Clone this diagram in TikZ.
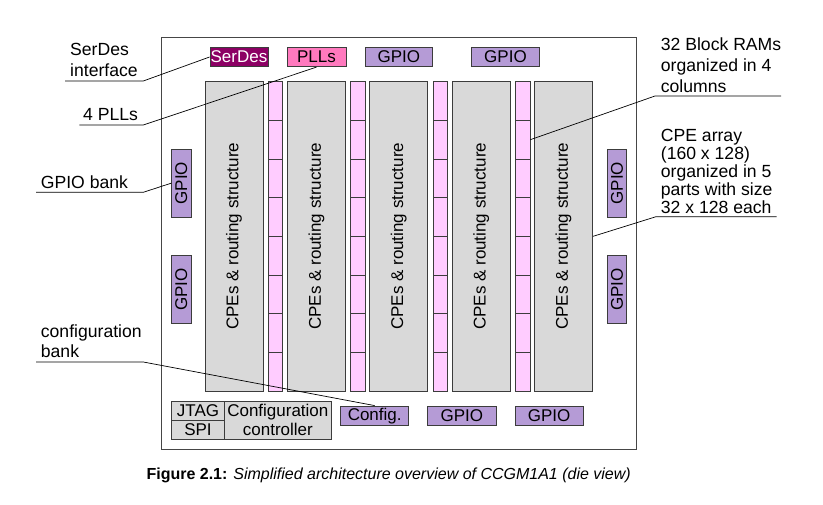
\documentclass[tikz,border=0pt]{standalone}
\usepackage{fontspec}
\setmainfont{Liberation Sans}
\definecolor{edge}{RGB}{60,60,60}
\definecolor{dieedge}{RGB}{70,70,70}
\definecolor{serdesfill}{RGB}{140,0,100}
\definecolor{pllfill}{RGB}{255,121,190}
\definecolor{gpiofill}{RGB}{181,155,214}
\definecolor{bramfill}{RGB}{255,204,255}
\definecolor{cpefill}{RGB}{217,217,217}
\begin{document}
\begin{tikzpicture}[x=1pt,y=-1pt,
  blk/.style={draw=edge, line width=0.8pt, inner sep=0pt, font=\fontsize{17}{18}\selectfont},
  gpioh/.style={blk, fill=gpiofill, minimum width=67.7pt, minimum height=19.4pt},
  gpiov/.style={blk, fill=gpiofill, minimum width=19.3pt, minimum height=67.7pt},
  cpe/.style={blk, fill=cpefill, minimum width=58pt, minimum height=309.3pt},
  bram/.style={blk, fill=bramfill, minimum width=14.5pt, minimum height=38.66pt},
  cfg/.style={blk, fill=cpefill},
  lbl/.style={inner sep=0pt, align=left, anchor=north west, font=\fontsize{17.6}{20.6}\selectfont},
  leader/.style={draw=black, line width=0.7pt}
]
\useasboundingbox (0,0) rectangle (823,505);

% die outline
\node[draw=dieedge, line width=1pt, inner sep=0pt, minimum width=474.8pt, minimum height=411.8pt] (die) at (398.9,243.4) {};

% top row
\node[blk, fill=serdesfill, text=white, minimum width=58pt, minimum height=19.4pt] (serdes) at (239,57) {SerDes};
\node[blk, fill=pllfill, minimum width=59pt, minimum height=19.4pt] (pll) at (316.5,57) {PLLs};
\node[gpioh] (gpiot1) at (398.8,57) {GPIO};
\node[gpioh] (gpiot2) at (505.5,57) {GPIO};

% CPE columns
\foreach \i in {1,...,5}
  \node[cpe] (cpe\i) at ({234+82.4*(\i-1)},236.35) {\rotatebox{90}{CPEs \& routing structure}};

% Block RAM columns
\foreach \c in {1,...,4}
  \foreach \s in {1,...,8}
    \node[bram] (bram\c-\s) at ({275.5+82.4*(\c-1)},{81.7+38.66*(\s-0.5)}) {};

% side GPIO banks
\node[gpiov] (gpiol1) at (181.35,183.15) {\rotatebox{90}{GPIO}};
\node[gpiov] (gpiol2) at (181.35,289.5) {\rotatebox{90}{GPIO}};
\node[gpiov] (gpior1) at (617,183.15) {\rotatebox{90}{GPIO}};
\node[gpiov] (gpior2) at (617,289.5) {\rotatebox{90}{GPIO}};

% bottom row
\node[cfg, minimum width=53.4pt, minimum height=19.3pt] (jtag) at (198,410.65) {JTAG};
\node[cfg, minimum width=53.4pt, minimum height=19pt] (spi) at (198,429.8) {SPI};
\node[cfg, minimum width=106.3pt, minimum height=38.3pt, align=center, font=\fontsize{17}{18.5}\selectfont] (ctrl) at (277.85,420.15) {Configuration\\controller};
\node[blk, fill=gpiofill, minimum width=68pt, minimum height=19.3pt] (config) at (374.7,415.65) {Config.};
\node[gpioh, minimum width=68.3pt, minimum height=19.3pt] (gpiob1) at (461.85,415.65) {GPIO};
\node[gpioh, minimum width=68.3pt, minimum height=19.3pt] (gpiob2) at (549.15,415.65) {GPIO};

% left labels
\node[lbl] (lserdes) at (70,43.4) {SerDes\\interface};
\coordinate (u1a) at (65,81); \coordinate (u1b) at (143.3,81);
\draw[leader] (u1a) -- (u1b) -- (serdes.west);

\node[lbl] (lpll) at (83,108.1) {4 PLLs};
\coordinate (u2a) at (79.3,125); \coordinate (u2b) at (143.3,125);
\draw[leader] (u2a) -- (u2b) -- (pll.south);

\node[lbl] (lgpio) at (40.7,175.4) {GPIO bank};
\coordinate (u3a) at (36,192.3); \coordinate (u3b) at (143.3,192.3);
\draw[leader] (u3a) -- (u3b) -- (gpiol1.west);

\node[lbl, font=\fontsize{17.6}{20}\selectfont] (lcfg) at (40.7,324.1) {configuration\\bank};
\coordinate (u4a) at (36,362); \coordinate (u4b) at (143.3,362);
\draw[leader] (u4a) -- (u4b) -- (config.north);

% right labels
\node[lbl, font=\fontsize{17.6}{20.8}\selectfont] (lbram) at (660.7,37.9) {32 Block RAMs\\organized in 4\\columns};
\coordinate (u5a) at (781,96); \coordinate (u5b) at (655,96);
\draw[leader] (u5a) -- (u5b) -- (bram4-2.east);

\node[lbl, font=\fontsize{17.6}{17.9}\selectfont] (lcpe) at (660.7,129.3) {CPE array\\(160 x 128)\\organized in 5\\parts with size\\32 x 128 each};
\coordinate (u6a) at (776.7,216.7); \coordinate (u6b) at (656,216.7);
\draw[leader] (u6a) -- (u6b) -- (cpe5.east);

% caption
\node[anchor=base, inner sep=0pt, font=\fontsize{16}{18}\selectfont] (caption) at (388.7,479)
  {\textbf{Figure 2.1:} \textit{Simplified architecture overview of CCGM1A1 (die view)}};
\end{tikzpicture}
\end{document}
